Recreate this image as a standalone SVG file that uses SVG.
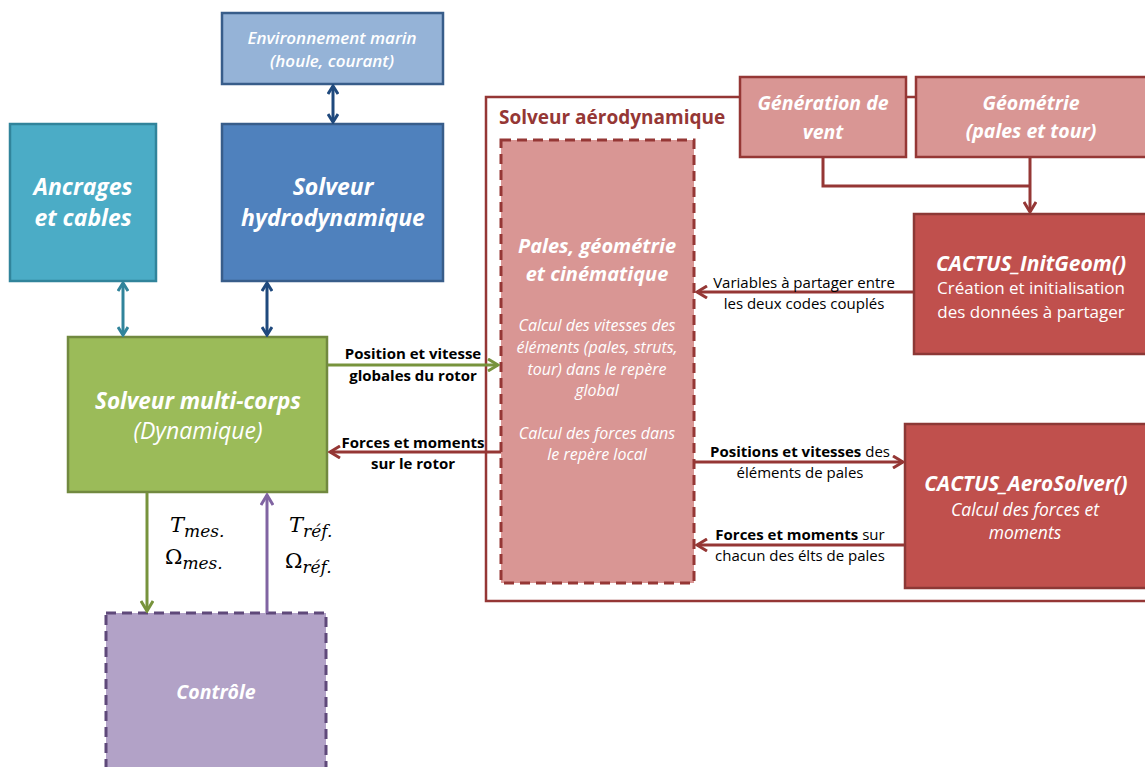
<svg xmlns="http://www.w3.org/2000/svg" width="1145" height="767" viewBox="0 0 1145 767">
<defs>
<style>
text{font-family:"Open Sans","Liberation Sans",sans-serif;text-anchor:middle}
.w{fill:#fff}
.bi{font-weight:bold;font-style:italic}
.i{font-style:italic}
.b{font-weight:bold}
.lbl{font-size:15px;fill:#000}
.m{font-family:"DejaVu Serif","Liberation Serif",serif;font-style:italic;text-anchor:start;fill:#000}
.c{fill:none;stroke-width:3}
</style>
<marker id="aBlue" viewBox="0 0 12 12" refX="10" refY="6" markerWidth="12" markerHeight="12" markerUnits="userSpaceOnUse" orient="auto-start-reverse"><path d="M2,1 L10,6 L2,11" fill="none" stroke="#1f497d" stroke-width="3"/></marker>
<marker id="aTeal" viewBox="0 0 12 12" refX="10" refY="6" markerWidth="12" markerHeight="12" markerUnits="userSpaceOnUse" orient="auto-start-reverse"><path d="M2,1 L10,6 L2,11" fill="none" stroke="#31849b" stroke-width="3"/></marker>
<marker id="aGreen" viewBox="0 0 14 14" refX="12" refY="7" markerWidth="14" markerHeight="14" markerUnits="userSpaceOnUse" orient="auto"><path d="M2,1 L12,7 L2,13" fill="none" stroke="#77933c" stroke-width="3"/></marker>
<marker id="aRed" viewBox="0 0 14 14" refX="12" refY="7" markerWidth="14" markerHeight="14" markerUnits="userSpaceOnUse" orient="auto"><path d="M2,1 L12,7 L2,13" fill="none" stroke="#953735" stroke-width="3"/></marker>
<marker id="aPurple" viewBox="0 0 14 14" refX="12" refY="7" markerWidth="14" markerHeight="14" markerUnits="userSpaceOnUse" orient="auto"><path d="M2,1 L12,7 L2,13" fill="none" stroke="#8064a2" stroke-width="3"/></marker>
</defs>
<rect width="1145" height="767" fill="#fff"/>

<g id="frame-aero">
<rect x="486" y="97" width="680" height="504" fill="none" stroke="#953735" stroke-width="2.5"/>
<text x="499" y="124" class="b" style="font-size:19px;fill:#953735;text-anchor:start">Solveur aérodynamique</text>
</g>

<g id="env">
<rect x="222" y="13" width="221" height="71" fill="#95b3d7" stroke="#385d8a" stroke-width="2.5"/>
<text x="332" y="44" class="w i" style="font-size:17px;font-weight:600">Environnement marin</text>
<text x="332" y="67" class="w i" style="font-size:17px;font-weight:600">(houle, courant)</text>
</g>

<g id="hydro">
<rect x="222" y="124" width="221" height="157" fill="#4f81bd" stroke="#385d8a" stroke-width="2.5"/>
<text x="333" y="195" class="w bi" style="font-size:23px">Solveur</text>
<text x="333" y="226" class="w bi" style="font-size:23px">hydrodynamique</text>
</g>

<g id="ancrages">
<rect x="10" y="124" width="146" height="157" fill="#4bacc6" stroke="#31849b" stroke-width="2.5"/>
<text x="83" y="195" class="w bi" style="font-size:23px">Ancrages</text>
<text x="83" y="226" class="w bi" style="font-size:23px">et cables</text>
</g>

<g id="multicorps">
<rect x="68" y="337" width="259" height="155" fill="#9bbb59" stroke="#71893f" stroke-width="2.5"/>
<text x="198" y="409" class="w bi" style="font-size:22.5px">Solveur multi-corps</text>
<text x="198" y="439" class="w i" style="font-size:23px">(Dynamique)</text>
</g>

<g id="controle">
<rect x="106" y="613" width="220" height="170" fill="#b2a2c7" stroke="#5f497a" stroke-width="3" stroke-dasharray="10,6"/>
<text x="216" y="699" class="w bi" style="font-size:19.5px">Contrôle</text>
</g>

<g id="pales">
<rect x="501" y="140" width="193" height="443" fill="#d99694" stroke="#953735" stroke-width="3" stroke-dasharray="10,6"/>
<text x="597" y="253" class="w bi" style="font-size:20px">Pales, géométrie</text>
<text x="597" y="281" class="w bi" style="font-size:20px">et cinématique</text>
<text x="597" y="331" class="w i" style="font-size:16px">Calcul des vitesses des</text>
<text x="597" y="353" class="w i" style="font-size:16px">éléments (pales, struts,</text>
<text x="597" y="375" class="w i" style="font-size:16px">tour) dans le repère</text>
<text x="597" y="396" class="w i" style="font-size:16px">global</text>
<text x="597" y="439" class="w i" style="font-size:16px">Calcul des forces dans</text>
<text x="597" y="460" class="w i" style="font-size:16px">le repère local</text>
</g>

<g id="vent">
<rect x="740" y="77" width="166" height="80" fill="#d99694" stroke="#953735" stroke-width="2.5"/>
<text x="823" y="110" class="w bi" style="font-size:19.5px">Génération de</text>
<text x="823" y="139" class="w bi" style="font-size:19.5px">vent</text>
</g>

<g id="geometrie">
<rect x="916" y="77" width="240" height="80" fill="#d99694" stroke="#953735" stroke-width="2.5"/>
<text x="1031" y="110" class="w bi" style="font-size:19.5px">Géométrie</text>
<text x="1031" y="138" class="w bi" style="font-size:19.5px">(pales et tour)</text>
</g>

<g id="initgeom">
<rect x="914" y="214" width="240" height="140" fill="#c0504d" stroke="#8c3836" stroke-width="2.5"/>
<text x="1031" y="271" class="w bi" style="font-size:21px">CACTUS_InitGeom()</text>
<text x="1031" y="294" class="w" style="font-size:17px">Création et initialisation</text>
<text x="1031" y="318" class="w" style="font-size:17px">des données à partager</text>
</g>

<g id="aerosolver">
<rect x="905" y="424" width="250" height="164" fill="#c0504d" stroke="#8c3836" stroke-width="2.5"/>
<text x="1026" y="491" class="w bi" style="font-size:20.8px">CACTUS_AeroSolver()</text>
<text x="1025" y="516" class="w i" style="font-size:17.5px">Calcul des forces et</text>
<text x="1025" y="539" class="w i" style="font-size:17.5px">moments</text>
</g>

<g id="connectors">
<line x1="333" y1="86" x2="333" y2="122" class="c" stroke="#1f497d" marker-start="url(#aBlue)" marker-end="url(#aBlue)"/>
<line x1="123" y1="283" x2="123" y2="335" class="c" stroke="#31849b" marker-start="url(#aTeal)" marker-end="url(#aTeal)"/>
<line x1="267" y1="283" x2="267" y2="335" class="c" stroke="#1f497d" marker-start="url(#aBlue)" marker-end="url(#aBlue)"/>
<line x1="328" y1="365" x2="498" y2="365" class="c" stroke="#77933c" marker-end="url(#aGreen)"/>
<line x1="501" y1="452" x2="330" y2="452" class="c" stroke="#953735" marker-end="url(#aRed)"/>
<line x1="147" y1="493" x2="147" y2="611" class="c" stroke="#77933c" marker-end="url(#aGreen)"/>
<line x1="267" y1="613" x2="267" y2="495" class="c" stroke="#8064a2" marker-end="url(#aPurple)"/>
<polyline points="823,158 823,186 1030,186" class="c" stroke="#953735"/>
<line x1="1030" y1="158" x2="1030" y2="212" class="c" stroke="#953735" marker-end="url(#aRed)"/>
<line x1="913" y1="292" x2="697" y2="292" class="c" stroke="#953735" marker-end="url(#aRed)"/>
<line x1="695" y1="462" x2="903" y2="462" class="c" stroke="#953735" marker-end="url(#aRed)"/>
<line x1="904" y1="545" x2="697" y2="545" class="c" stroke="#953735" marker-end="url(#aRed)"/>

<text x="413" y="359" class="lbl b">Position et vitesse</text>
<text x="413" y="381" class="lbl b">globales du rotor</text>
<text x="413" y="448" class="lbl b">Forces et moments</text>
<text x="413" y="469" class="lbl b">sur le rotor</text>
<text x="804" y="288" class="lbl">Variables à partager entre</text>
<text x="804" y="309" class="lbl">les deux codes couplés</text>
<text x="800" y="457" class="lbl"><tspan class="b">Positions et vitesses</tspan> des</text>
<text x="800" y="478" class="lbl">éléments de pales</text>
<text x="800" y="540" class="lbl"><tspan class="b">Forces et moments</tspan> sur</text>
<text x="800" y="561" class="lbl">chacun des élts de pales</text>

<text x="170" y="532" class="m" style="font-size:21px">T<tspan dy="5" style="font-size:17px">mes.</tspan></text>
<text x="165" y="564" class="m" style="font-size:21px;font-style:normal">Ω<tspan dy="5" style="font-size:17px;font-style:italic">mes.</tspan></text>
<text x="289" y="532" class="m" style="font-size:21px">T<tspan dy="5" style="font-size:17px">réf.</tspan></text>
<text x="285" y="568" class="m" style="font-size:21px;font-style:normal">Ω<tspan dy="5" style="font-size:17px;font-style:italic">réf.</tspan></text>
</g>
</svg>
